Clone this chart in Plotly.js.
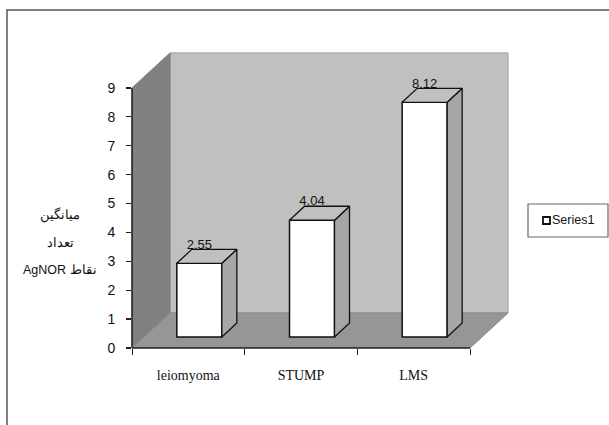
<!DOCTYPE html>
<html><head><meta charset="utf-8">
<script src="https://cdn.plot.ly/plotly-3.0.1.min.js"></script>
<style>html,body{margin:0;padding:0;background:#fff;overflow:hidden}</style>
</head><body><div id="chart" style="width:609px;height:425px"></div>
<script>
const categories = ['leiomyoma', 'STUMP', 'LMS'];
const seriesName = 'Series1';
const values = [2.55, 4.04, 8.12];
const yTicks = [0,1,2,3,4,5,6,7,8,9];
const yTitleLines = ['میانگین', 'تعداد', 'AgNOR نقاط'];

// figure geometry in pixels
const W = 609, H = 425, L = 132, R = 520, T = 40, B = 348;
const xUnit = 112.67, yUnit = 28.9;
const xMax = (R - L) / xUnit, yMax = (B - T) / yUnit;
// oblique projection, in data units
const wallDX = 38 / xUnit, wallDY = 35 / yUnit;
const barDX = 15 / xUnit, barDY = 14 / yUnit;
const barShiftX = 11 / xUnit, barBase = 11 / yUnit;
const barWidth = 45 / xUnit;
const labelGap = 18 / yUnit;
const nCat = categories.length, yTop = yTicks[yTicks.length - 1];

const centers = categories.map((_, i) => i + 0.5);
const barX = centers.map(c => c + barShiftX);

const poly = (pts, fill, line, lw) => ({
  type: 'path', layer: 'below', xref: 'x', yref: 'y',
  path: 'M' + pts.map(p => p[0] + ',' + p[1]).join('L') + 'Z',
  fillcolor: fill, line: {color: line, width: lw}
});
const px = x => (x - L) / (R - L);
const py = y => (B - y) / (B - T);

const traces = [];
traces.push({type:'bar', x: barX, y: values, base: barBase, width: barWidth, name: seriesName,
  marker:{color:'#ffffff', line:{color:'#111111', width:1.5}}, showlegend:false, hoverinfo:'skip'});

barX.forEach((cx, i) => {
  const x0 = cx - barWidth/2, x1 = cx + barWidth/2, y0 = barBase, y1 = barBase + values[i];
  traces.push({type:'scatter', mode:'lines', fill:'toself', fillcolor:'#a6a6a6',
    x:[x1, x1+barDX, x1+barDX, x1, x1], y:[y0, y0+barDY, y1+barDY, y1, y0],
    line:{color:'#111111', width:1.3}, showlegend:false, hoverinfo:'skip'});
  traces.push({type:'scatter', mode:'lines', fill:'toself', fillcolor:'#c0c0c0',
    x:[x0, x0+barDX, x1+barDX, x1, x0], y:[y1, y1+barDY, y1+barDY, y1, y1],
    line:{color:'#111111', width:1.3}, showlegend:false, hoverinfo:'skip'});
});

traces.push({type:'scatter', mode:'text', x: barX, y: values.map(v => v + barBase + labelGap),
  text: values.map(v => v.toFixed(2)), textposition:'middle center',
  textfont:{family:'"Liberation Sans",sans-serif', size:13, color:'#111'},
  showlegend:false, hoverinfo:'skip'});

// dummy on second x axis so its ticks draw
traces.push({type:'scatter', mode:'none', x:[0,nCat], y:[0,0], xaxis:'x2', showlegend:false, hoverinfo:'skip'});

const shapes = [
  {type:'rect', xref:'paper', yref:'paper', x0:px(7), x1:px(W+6), y0:py(H+6), y1:py(10),
   layer:'below', fillcolor:'rgba(0,0,0,0)', line:{color:'#555555', width:1.5}},
  poly([[wallDX,wallDY],[nCat+wallDX,wallDY],[nCat+wallDX,yTop+wallDY],[wallDX,yTop+wallDY]], '#c0c0c0', '#999999', 1),
  poly([[0,0],[wallDX,wallDY],[wallDX,yTop+wallDY],[0,yTop]], '#808080', '#808080', 1),
  poly([[0,0],[nCat,0],[nCat+wallDX,wallDY],[wallDX,wallDY]], '#969696', '#888888', 1),
  // axis lines: paper-referenced so they are not clipped at the plot edge
  {type:'line', xref:'paper', yref:'paper', x0:0, x1:0, y0:0, y1:yTop/yMax, line:{color:'#222222', width:1.6}},
  {type:'line', xref:'paper', yref:'paper', x0:0, x1:nCat/xMax, y0:0, y1:0, line:{color:'#222222', width:1.6}},
  // legend box and swatch
  {type:'rect', xref:'paper', yref:'paper', x0:px(528), x1:px(608), y0:py(237), y1:py(204),
   fillcolor:'#ffffff', line:{color:'#666666', width:1.2}},
  {type:'rect', xref:'paper', yref:'paper', x0:px(543), x1:px(550), y0:py(224), y1:py(217),
   fillcolor:'#ffffff', line:{color:'#111111', width:1.8}}
];

const serifFont = {family:'"Liberation Serif",serif', size:14, color:'#111'};
const sans = '"Liberation Sans",sans-serif';
const annotations = yTitleLines.map((t, i) => ({
  text: t, xref:'paper', yref:'paper', x:px(60), y:py(215 + i*27.5), showarrow:false,
  xanchor:'center', yanchor:'middle',
  font:{family:'"Liberation Sans","Noto Sans",sans-serif', size:12.5, color:'#111'}
}));
annotations.push({text: seriesName, xref:'paper', yref:'paper', x:px(553), y:py(220), showarrow:false,
  xanchor:'left', yanchor:'middle', xshift:-3,
  font:{family:sans, size:12.5, color:'#111'}});

Plotly.newPlot('chart', traces, {
  width:W, height:H, paper_bgcolor:'#ffffff', plot_bgcolor:'rgba(0,0,0,0)',
  margin:{l:L, r:W-R, t:T, b:H-B, pad:0}, showlegend:false,
  xaxis:{range:[0,xMax], tickmode:'array', tickvals:centers, ticktext:categories,
    ticks:'', showgrid:false, zeroline:false, showline:false, ticklabelstandoff:17, tickfont:serifFont},
  xaxis2:{range:[0,xMax], overlaying:'x', side:'bottom', anchor:'y', tickmode:'array',
    tickvals:categories.map((_,i)=>i).concat([nCat]), ticktext:['','','',''],
    ticks:'outside', ticklen:6, tickcolor:'#222', tickwidth:1, showgrid:false, zeroline:false, showline:false},
  yaxis:{range:[0,yMax], tickmode:'array', tickvals:yTicks, ticks:'outside', ticklen:5, tickcolor:'#222',
    tickwidth:1.3, showgrid:false, zeroline:false, showline:false, ticklabelstandoff:8,
    tickfont:{family:sans, size:14, color:'#111'}},
  bargap:0, shapes, annotations
}, {displayModeBar:false, staticPlot:true});
</script></body></html>
